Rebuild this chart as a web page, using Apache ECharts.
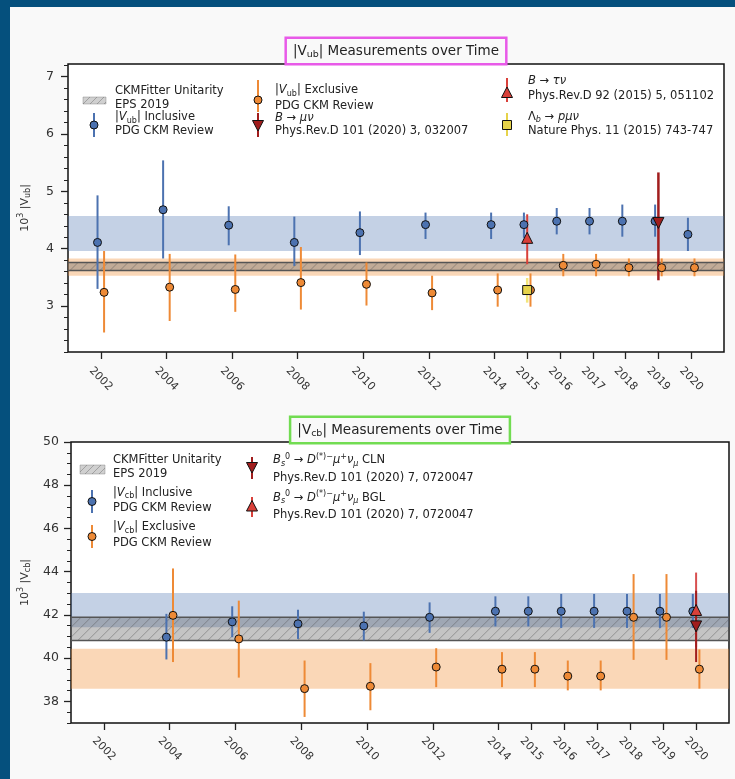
<!DOCTYPE html>
<html>
<head>
<meta charset="utf-8">
<script src="https://cdn.jsdelivr.net/npm/echarts@6/dist/echarts.min.js"></script>
<style>
  html, body { margin: 0; padding: 0; }
  #chart { width: 735px; height: 779px; }
</style>
</head>
<body>
<div id="chart"></div>
<script>
// ---- data ----
const tickYears = [2002, 2004, 2006, 2008, 2010, 2012, 2014, 2015, 2016, 2017, 2018, 2019, 2020];

// |Vub| (x10^3)
const ubYears = [2002, 2004, 2006, 2008, 2010, 2012, 2014, 2015, 2016, 2017, 2018, 2019, 2020];
const ubInclVal = [4.11, 4.68, 4.41, 4.11, 4.28, 4.42, 4.42, 4.42, 4.48, 4.48, 4.48, 4.48, 4.25];
const ubInclLo  = [3.30, 3.83, 4.06, 3.70, 3.89, 4.17, 4.17, 4.19, 4.25, 4.25, 4.21, 4.21, 3.96];
const ubInclHi  = [4.93, 5.54, 4.74, 4.56, 4.65, 4.63, 4.63, 4.63, 4.71, 4.71, 4.77, 4.77, 4.54];
const ubExclVal = [3.24, 3.33, 3.29, 3.41, 3.38, 3.23, 3.28, 3.28, 3.71, 3.73, 3.67, 3.67, 3.67];
const ubExclLo  = [2.54, 2.74, 2.90, 2.94, 3.01, 2.93, 2.99, 2.99, 3.52, 3.52, 3.52, 3.52, 3.52];
const ubExclHi  = [3.96, 3.91, 3.90, 4.03, 3.76, 3.53, 3.57, 3.57, 3.91, 3.91, 3.83, 3.83, 3.83];
const ubTauNu   = { year: 2015, val: 4.19, lo: 3.73, hi: 4.60 };
const ubMuNu    = { year: 2019, val: 4.45, lo: 3.45, hi: 5.33 };
const ubLambdaB = { year: 2015, val: 3.28, lo: 3.06, hi: 3.49 };
const ubInclBand = [3.96, 4.57];
const ubExclBand = [3.53, 3.83];
const ubCkmBand  = [3.62, 3.76];
const ubYTicks = [3, 4, 5, 6, 7];

// |Vcb| (x10^3)
const cbYears = [2004, 2006, 2008, 2010, 2012, 2014, 2015, 2016, 2017, 2018, 2019, 2020];
const cbInclVal = [40.97, 41.68, 41.59, 41.49, 41.89, 42.17, 42.17, 42.17, 42.17, 42.17, 42.17, 42.17];
const cbInclLo  = [39.94, 40.97, 40.89, 40.82, 41.17, 41.47, 41.47, 41.40, 41.40, 41.40, 41.40, 41.40];
const cbInclHi  = [42.05, 42.40, 42.24, 42.15, 42.58, 42.86, 42.86, 42.97, 42.97, 42.97, 42.97, 42.97];
const cbExclVal = [41.98, 40.89, 38.59, 38.70, 39.59, 39.49, 39.49, 39.17, 39.17, 41.89, 41.89, 39.49];
const cbExclLo  = [39.82, 39.10, 37.28, 37.59, 38.66, 38.66, 38.66, 38.51, 38.51, 39.92, 39.92, 38.59];
const cbExclHi  = [44.15, 42.66, 39.89, 39.77, 40.46, 40.28, 40.28, 39.89, 39.89, 43.89, 43.89, 40.40];
const cbCLN = { year: 2020, val: 41.47, lo: 39.82, hi: 43.12 };
const cbBGL = { year: 2020, val: 42.23, lo: 40.50, hi: 43.96 };
const cbInclBand = [41.43, 43.01];
const cbExclBand = [38.59, 40.43];
const cbCkmBand  = [40.82, 41.89];
const cbYTicks = [38, 40, 42, 44, 46, 48, 50];

// ---- styling ----
const F = 'DejaVu Sans';
const BLUE = '#4c72b0';
const ORANGE = '#ee8a36';
const RED = '#d9403a';
const DARKRED = '#a11d1d';
const YELLOW = '#e6d34a';
const DX = 0.1; // horizontal dodge between inclusive / exclusive points

function minorTicks(lo, hi, step, majors) {
  const out = [];
  for (let v = lo; v <= hi + 1e-9; v += step) {
    const r = Math.round(v * 100) / 100;
    if (!majors.includes(r)) out.push(r);
  }
  return out;
}

function hatchLines(x0, y0, x1, y1, gap, stroke, width) {
  const els = [];
  for (let c = x0 + y0; c <= x1 + y1 + gap; c += gap) {
    const xa = Math.max(x0, c - y1), xb = Math.min(x1, c - y0);
    if (xb <= xa) continue;
    els.push({ type: 'line', shape: { x1: xa, y1: c - xa, x2: xb, y2: c - xb },
      style: { stroke, lineWidth: width }, silent: true });
  }
  return els;
}

function bandSeries(xi, yi, band, fill, hatched) {
  return {
    type: 'custom', xAxisIndex: xi, yAxisIndex: yi, z: 1, silent: true,
    data: [[2011, band[0], band[1]]],
    encode: { x: 0, y: [1, 2] },
    renderItem(params, api) {
      const cs = params.coordSys;
      const yTop = api.coord([api.value(0), api.value(2)])[1];
      const yBot = api.coord([api.value(0), api.value(1)])[1];
      const kids = [{ type: 'rect', shape: { x: cs.x, y: yTop, width: cs.width, height: yBot - yTop },
        style: { fill } }];
      if (hatched) {
        hatchLines(cs.x, yTop, cs.x + cs.width, yBot, 10, 'rgba(80,80,80,0.55)', 0.8).forEach(e => kids.push(e));
        kids.push({ type: 'line', shape: { x1: cs.x, y1: yTop, x2: cs.x + cs.width, y2: yTop }, style: { stroke: '#555', lineWidth: 1.6 } });
        kids.push({ type: 'line', shape: { x1: cs.x, y1: yBot, x2: cs.x + cs.width, y2: yBot }, style: { stroke: '#555', lineWidth: 1.6 } });
      }
      return { type: 'group', children: kids };
    }
  };
}

function errSeries(xi, yi, xs, lo, hi, dx, color, width) {
  return {
    type: 'custom', xAxisIndex: xi, yAxisIndex: yi, z: 2, silent: true,
    data: xs.map((x, k) => [x + dx, lo[k], hi[k]]),
    encode: { x: 0, y: [1, 2] },
    renderItem(params, api) {
      const a = api.coord([api.value(0), api.value(1)]);
      const b = api.coord([api.value(0), api.value(2)]);
      return { type: 'line', shape: { x1: a[0], y1: a[1], x2: b[0], y2: b[1] },
        style: { stroke: color, lineWidth: width } };
    }
  };
}

function dotSeries(xi, yi, xs, vals, dx, symbol, size, color, rot) {
  return {
    type: 'scatter', xAxisIndex: xi, yAxisIndex: yi, z: 3, silent: true,
    data: xs.map((x, k) => [x + dx, vals[k]]),
    symbol, symbolSize: size, symbolRotate: rot || 0,
    itemStyle: { color, borderColor: '#111', borderWidth: 1, opacity: 1 }
  };
}

function xAxisCfg(gi, margin) {
  return {
    gridIndex: gi, type: 'value', min: 2001, max: 2021,
    axisLine: { show: false }, splitLine: { show: false },
    axisTick: { customValues: tickYears, length: 7, lineStyle: { color: '#222', width: 1.3 } },
    axisLabel: { customValues: tickYears, formatter: v => String(v), rotate: -45, align: 'center',
      verticalAlign: 'middle', margin, fontSize: 11, color: '#333', fontFamily: F }
  };
}

const subRich = {
  sb: { fontSize: 8, fontFamily: F, color: '#333', padding: [6, 0, 0, 0] },
  sp: { fontSize: 8, fontFamily: F, color: '#333', padding: [0, 0, 8, 0] }
};

function yAxisCfg(gi, min, max, ticks, name, nameGap, margin) {
  return {
    gridIndex: gi, type: 'value', min, max, position: 'left',
    name, nameLocation: 'middle', nameGap,
    nameTextStyle: { fontSize: 11, fontFamily: F, color: '#333', rich: subRich },
    axisLine: { show: false }, splitLine: { show: false },
    axisTick: { customValues: ticks, length: 7, lineStyle: { color: '#222', width: 1.3 } },
    axisLabel: { customValues: ticks, margin, fontSize: 12.5, color: '#333', fontFamily: F }
  };
}

function yMinorCfg(gi, min, max, ticks) {
  return {
    gridIndex: gi, type: 'value', min, max, position: 'left',
    axisLine: { show: false }, splitLine: { show: false }, axisLabel: { show: false },
    axisTick: { customValues: ticks, length: 4, lineStyle: { color: '#222', width: 1 } }
  };
}

// ---- legend / title graphics ----
const lgRich = {
  i: { fontStyle: 'italic', fontSize: 11.5, fontFamily: F, color: '#222' },
  r: { fontSize: 11.5, fontFamily: F, color: '#222' },
  sb: { fontSize: 8, fontFamily: F, color: '#222', padding: [6, 0, 0, 0] },
  isb: { fontSize: 8, fontStyle: 'italic', fontFamily: F, color: '#222', padding: [6, 0, 0, 0] },
  sp: { fontSize: 8, fontFamily: F, color: '#222', padding: [0, 0, 8, 0] },
  isp: { fontSize: 8, fontStyle: 'italic', fontFamily: F, color: '#222', padding: [0, 0, 8, 0] }
};

function txt(x, y, text) {
  return { type: 'text', x, y, silent: true,
    style: { text, fontSize: 11.5, fontFamily: F, fill: '#222', verticalAlign: 'middle', align: 'left', rich: lgRich } };
}
function errIcon(x, y0, y1, color) {
  return { type: 'line', silent: true, shape: { x1: x, y1: y0, x2: x, y2: y1 }, style: { stroke: color, lineWidth: 2 } };
}
function circleIcon(x, y, color) {
  return { type: 'circle', silent: true, shape: { cx: x, cy: y, r: 4 }, style: { fill: color, stroke: '#111', lineWidth: 1 } };
}
function triIcon(x, y, color, down) {
  const s = down ? -1 : 1;
  return { type: 'polygon', silent: true,
    shape: { points: [[x, y - 6 * s], [x - 5.5, y + 4.5 * s], [x + 5.5, y + 4.5 * s]] },
    style: { fill: color, stroke: '#111', lineWidth: 1 } };
}
function patchIcon(x0, y0, x1, y1) {
  const els = [{ type: 'rect', silent: true, shape: { x: x0, y: y0, width: x1 - x0, height: y1 - y0 },
    style: { fill: 'rgba(120,120,120,0.35)', stroke: 'rgba(120,120,120,0.4)', lineWidth: 1 } }];
  return els.concat(hatchLines(x0, y0, x1, y1, 7, 'rgba(90,90,90,0.5)', 0.8));
}
function titleBox(x, y, text, border) {
  return { type: 'text', x, y, silent: true, z: 10,
    style: { text, fontSize: 13.5, fontFamily: F, fill: '#222', align: 'center', verticalAlign: 'middle',
      borderColor: border, borderWidth: 2.5, padding: [4, 6, 3, 6], backgroundColor: '#f9f9f9',
      rich: { sb: { fontSize: 9.5, fontFamily: F, fill: '#222', padding: [7, 0, 0, 0] } } } };
}

const graphics = [
  { type: 'rect', shape: { x: 0, y: 0, width: 10, height: 779 }, style: { fill: '#05507d' }, silent: true },
  { type: 'rect', shape: { x: 0, y: 0, width: 735, height: 7 }, style: { fill: '#05507d' }, silent: true },
  titleBox(396, 51, '|V{sb|ub}| Measurements over Time', '#e85ae8'),
  titleBox(400, 430, '|V{sb|cb}| Measurements over Time', '#72dc52'),

  // top legend
  ...patchIcon(83, 97, 106, 104),
  txt(115, 91.5, 'CKMFitter Unitarity'),
  txt(115, 105, 'EPS 2019'),
  errIcon(94, 113, 137, BLUE), circleIcon(94, 125, BLUE),
  txt(115, 117.5, '|{i|V}{sb|ub}| Inclusive'),
  txt(115, 131.5, 'PDG CKM Review'),
  errIcon(258, 80, 112, ORANGE), circleIcon(258, 100, ORANGE),
  txt(275, 90.5, '|{i|V}{sb|ub}| Exclusive'),
  txt(275, 106, 'PDG CKM Review'),
  errIcon(258, 113, 137, DARKRED), triIcon(258, 125, DARKRED, true),
  txt(275, 118, '{i|B}{r| → }{i|μν}'),
  txt(275, 131.5, 'Phys.Rev.D 101 (2020) 3, 032007'),
  errIcon(507, 78, 102, RED), triIcon(507, 93, RED, false),
  txt(528, 81.5, '{i|B}{r| → }{i|τν}'),
  txt(528, 96.5, 'Phys.Rev.D 92 (2015) 5, 051102'),
  errIcon(507, 113, 136, YELLOW),
  { type: 'rect', silent: true, shape: { x: 502.5, y: 120.5, width: 9, height: 9 }, style: { fill: YELLOW, stroke: '#111', lineWidth: 1 } },
  txt(528, 117, 'Λ{isb|b}{r| → }{i|pμν}'),
  txt(528, 131, 'Nature Phys. 11 (2015) 743-747'),

  // bottom legend
  ...patchIcon(80, 465, 105, 474),
  txt(113, 460, 'CKMFitter Unitarity'),
  txt(113, 474, 'EPS 2019'),
  errIcon(92, 490, 513, BLUE), circleIcon(92, 501.5, BLUE),
  txt(113, 493, '|{i|V}{sb|cb}| Inclusive'),
  txt(113, 508, 'PDG CKM Review'),
  errIcon(92, 525, 548, ORANGE), circleIcon(92, 536.5, ORANGE),
  txt(113, 527.5, '|{i|V}{sb|cb}| Exclusive'),
  txt(113, 543, 'PDG CKM Review'),
  errIcon(252, 457, 479, DARKRED), triIcon(252, 467, DARKRED, true),
  txt(273, 460.5, '{i|B}{isb|s}{sp|0}{r| → }{i|D}{sp|(*)−}{i|μ}{sp|+}{i|ν}{isb|μ} CLN'),
  txt(273, 478, 'Phys.Rev.D 101 (2020) 7, 0720047'),
  errIcon(252, 497, 517, RED), triIcon(252, 506.5, RED, false),
  txt(273, 498, '{i|B}{isb|s}{sp|0}{r| → }{i|D}{sp|(*)−}{i|μ}{sp|+}{i|ν}{isb|μ} BGL'),
  txt(273, 515.5, 'Phys.Rev.D 101 (2020) 7, 0720047')
];

const chart = echarts.init(document.getElementById('chart'), null, { renderer: 'canvas' });

chart.setOption({
  backgroundColor: '#f9f9f9',
  animation: false,
  grid: [
    { left: 68, top: 64, width: 656, height: 288, show: true, backgroundColor: '#fff', borderColor: '#111', borderWidth: 1.5 },
    { left: 71, top: 442, width: 658, height: 281, show: true, backgroundColor: '#fff', borderColor: '#111', borderWidth: 1.5 }
  ],
  xAxis: [xAxisCfg(0, 27), xAxisCfg(1, 26)],
  yAxis: [
    yAxisCfg(0, 2.2, 7.22, ubYTicks, '10{sp|3} |V{sb|ub}|', 35, 14),
    yMinorCfg(0, 2.2, 7.22, minorTicks(2.2, 7.2, 0.2, ubYTicks)),
    yAxisCfg(1, 37, 50, cbYTicks, '10{sp|3} |V{sb|cb}|', 38, 12),
    yMinorCfg(1, 37, 50, minorTicks(37, 50, 0.5, cbYTicks))
  ],
  graphic: { elements: graphics },
  series: [
    // |Vub|
    bandSeries(0, 0, ubInclBand, 'rgba(76,114,176,0.33)', false),
    bandSeries(0, 0, ubExclBand, 'rgba(240,140,50,0.35)', false),
    bandSeries(0, 0, ubCkmBand, 'rgba(100,100,100,0.38)', true),
    errSeries(0, 0, ubYears, ubInclLo, ubInclHi, -DX, BLUE, 2),
    errSeries(0, 0, ubYears, ubExclLo, ubExclHi, DX, ORANGE, 2),
    errSeries(0, 0, [ubTauNu.year], [ubTauNu.lo], [ubTauNu.hi], 0, RED, 2),
    errSeries(0, 0, [ubMuNu.year], [ubMuNu.lo], [ubMuNu.hi], 0, DARKRED, 2.5),
    errSeries(0, 0, [ubLambdaB.year], [ubLambdaB.lo], [ubLambdaB.hi], 0, 'rgba(240,224,90,0.8)', 2.5),
    dotSeries(0, 0, ubYears, ubInclVal, -DX, 'circle', 8, BLUE),
    dotSeries(0, 0, ubYears, ubExclVal, DX, 'circle', 8, ORANGE),
    dotSeries(0, 0, [ubTauNu.year], [ubTauNu.val], 0, 'triangle', 11, RED),
    dotSeries(0, 0, [ubMuNu.year], [ubMuNu.val], 0, 'triangle', 11, DARKRED, 180),
    dotSeries(0, 0, [ubLambdaB.year], [ubLambdaB.val], 0, 'rect', 9, YELLOW),

    // |Vcb|
    bandSeries(1, 2, cbInclBand, 'rgba(76,114,176,0.33)', false),
    bandSeries(1, 2, cbExclBand, 'rgba(240,140,50,0.35)', false),
    bandSeries(1, 2, cbCkmBand, 'rgba(100,100,100,0.38)', true),
    errSeries(1, 2, cbYears, cbInclLo, cbInclHi, -DX, BLUE, 2),
    errSeries(1, 2, cbYears, cbExclLo, cbExclHi, DX, ORANGE, 2),
    errSeries(1, 2, [cbBGL.year], [cbBGL.lo], [cbBGL.hi], 0, '#d85050', 2),
    errSeries(1, 2, [cbCLN.year], [cbCLN.lo], [cbCLN.hi], 0, DARKRED, 2),
    dotSeries(1, 2, cbYears, cbInclVal, -DX, 'circle', 8, BLUE),
    dotSeries(1, 2, cbYears, cbExclVal, DX, 'circle', 8, ORANGE),
    dotSeries(1, 2, [cbCLN.year], [cbCLN.val], 0, 'triangle', 11, DARKRED, 180),
    dotSeries(1, 2, [cbBGL.year], [cbBGL.val], 0, 'triangle', 11, RED)
  ]
});
</script>
</body>
</html>
